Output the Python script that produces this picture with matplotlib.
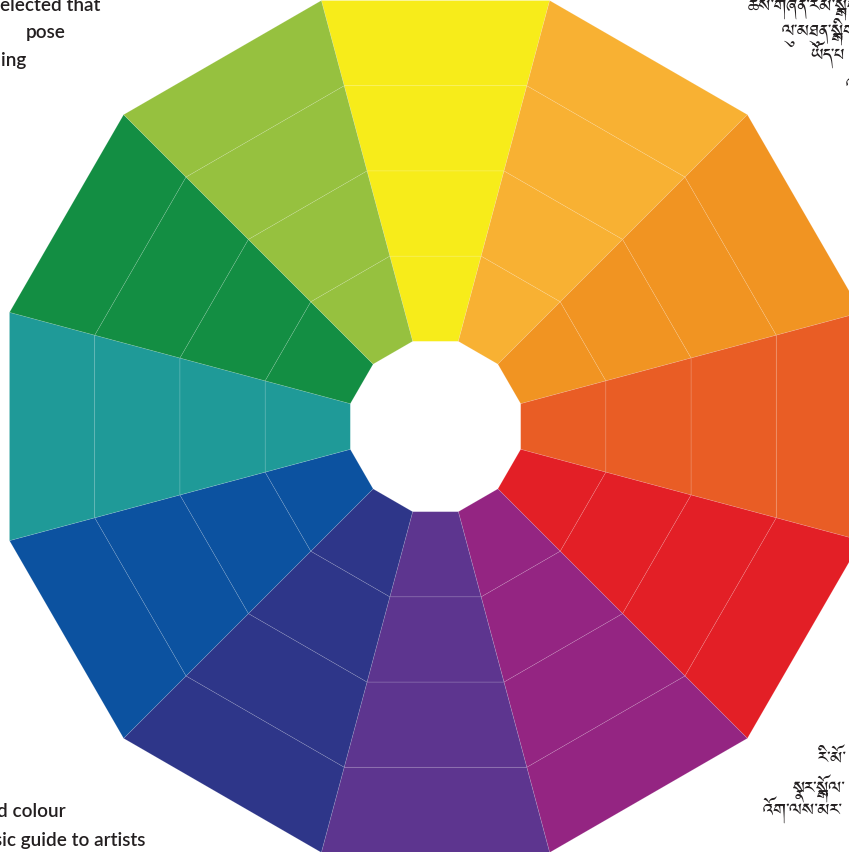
import numpy as np
import matplotlib
matplotlib.use("Agg")
import matplotlib.pyplot as plt
from matplotlib.patches import Polygon

# 12 hue sectors, clockwise from the top
hues = ["yellow", "yellow-orange", "orange", "red-orange", "red", "red-violet",
        "violet", "blue-violet", "blue", "blue-green", "green", "yellow-green"]
colores = ["#F7EC1A", "#F8B133", "#F19422", "#E95D25", "#E31F26", "#942582",
           "#5D358F", "#2E3689", "#0C52A0", "#1F9A98", "#138E43", "#96C13F"]
n_rings = 4

# textos (recortados nas bordas da imagem)
texto_en_top = ["elected that", "pose", "ing"]
texto_en_bottom = ["d colour", "sic guide to artists"]
texto_bo_top = ["ཚས་གཞན་རམ་སྒྲིག", "ལུ་མཐུན་སྒྲིག", "ཡོད་པ", "འ"]
texto_bo_bottom = ["རི་མོ་", "སྣར་སྒྲོལ་", "འོག་ལས་མར་"]

W, H = 849, 853
fig = plt.figure(figsize=(W / 100, H / 100), dpi=100)
ax = fig.add_axes([0, 0, 1, 1])
ax.set_xlim(0, W)
ax.set_ylim(H, 0)
ax.set_aspect("equal")
ax.axis("off")

cx, cy = 435.5, 427.5
passo = 85.2  # apótema de cada anel
c15 = np.cos(np.radians(15))

for i, cor in enumerate(colores):
    ang = 90 - 30 * i
    a1, a2 = np.radians(ang - 15), np.radians(ang + 15)
    for k in range(1, n_rings + 1):
        r0, r1 = k * passo / c15, (k + 1) * passo / c15
        pts = [(cx + r0 * np.cos(a1), cy - r0 * np.sin(a1)),
               (cx + r1 * np.cos(a1), cy - r1 * np.sin(a1)),
               (cx + r1 * np.cos(a2), cy - r1 * np.sin(a2)),
               (cx + r0 * np.cos(a2), cy - r0 * np.sin(a2))]
        ax.add_patch(Polygon(pts, closed=True, facecolor=cor,
                             edgecolor=(1, 1, 1, 0.15), lw=0.5))

# texto em inglês (canto esquerdo)
fonte_en = dict(family="Lato", weight="semibold", fontsize=13.6, color="#231F20")
for txt, x, y in zip(texto_en_top, [100, 66, 26], [5, 32, 60]):
    ax.text(x, y, txt, ha="right", va="center", **fonte_en)
for txt, x, y in zip(texto_en_bottom, [66, 145], [812, 841]):
    ax.text(x, y, txt, ha="right", va="center", **fonte_en)

# texto tibetano (canto direito)
fonte_bo = dict(family=["Jomolhari", "DejaVu Sans"], fontsize=16, color="#231F20")
for txt, x, y in zip(texto_bo_top, [748, 782, 810, 846], [7, 32, 57, 88]):
    ax.text(x, y, txt, ha="left", va="center", **fonte_bo)
for txt, x, y in zip(texto_bo_bottom, [818, 792, 763], [763, 789, 812]):
    ax.text(x, y, txt, ha="left", va="center", **fonte_bo)

fig.savefig("out.png", dpi=100)
